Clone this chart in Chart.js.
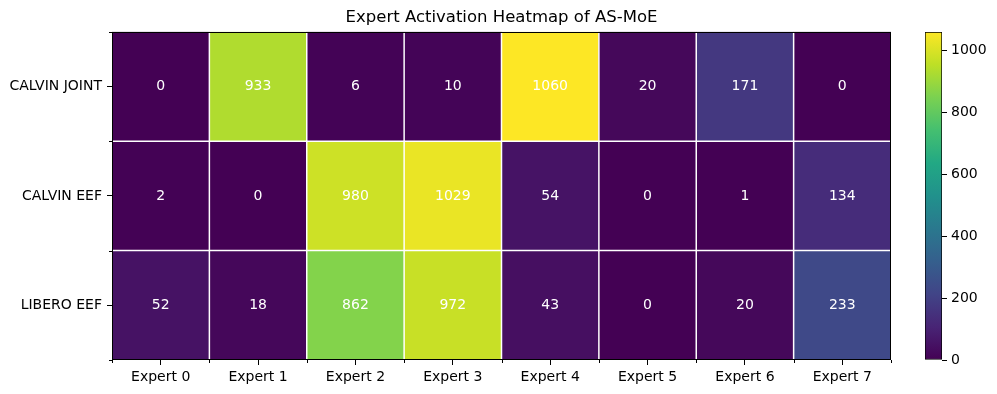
<!DOCTYPE html>
<html>
<head>
<meta charset="utf-8">
<script src="https://cdn.jsdelivr.net/npm/chart.js@4/dist/chart.umd.min.js"></script>
<style>
  body { margin: 0; background: #fff; }
  #wrap { position: relative; width: 997px; height: 394px; }
  canvas { position: absolute; left: 0; top: 0; }
</style>
</head>
<body>
<div id="wrap">
  <canvas id="heat" width="997" height="394"></canvas>
  <canvas id="cbar" width="997" height="394"></canvas>
</div>
<script>
const experts = ["Expert 0", "Expert 1", "Expert 2", "Expert 3",
  "Expert 4", "Expert 5", "Expert 6", "Expert 7"];
const rows = ["CALVIN JOINT", "CALVIN EEF", "LIBERO EEF"];
const calvinJoint = [0, 933, 6, 10, 1060, 20, 171, 0];
const calvinEef = [2, 0, 980, 1029, 54, 0, 1, 134];
const liberoEef = [52, 18, 862, 972, 43, 0, 20, 233];
const cbarTicks = [0, 200, 400, 600, 800, 1000];
const vmin = 0;
const vmax = 1060;

// viridis stops at 0, 0.1, ... 1
const viridisStops = ["#440154", "#482475", "#414487", "#355f8d", "#2a788e",
  "#21918c", "#22a884", "#44bf70", "#7ad151", "#bddf26", "#fde725"];

function hexRgb(h) {
  return [1, 3, 5].map(i => parseInt(h.slice(i, i + 2), 16));
}

function viridis(t) {
  t = Math.max(0, Math.min(1, t));
  const n = viridisStops.length - 1;
  const i = Math.min(n - 1, Math.floor(t * n));
  const f = t * n - i;
  const a = hexRgb(viridisStops[i]), b = hexRgb(viridisStops[i + 1]);
  const c = a.map((v, k) => Math.round(v + (b[k] - v) * f));
  return `rgb(${c[0]},${c[1]},${c[2]})`;
}

Chart.defaults.font.family = "'DejaVu Sans', sans-serif";
Chart.defaults.color = "#000";

const matrix = [calvinJoint, calvinEef, liberoEef];

const cellPlugin = {
  id: "cells",
  afterDatasetsDraw(chart) {
    const ctx = chart.ctx;
    const x = chart.scales.x, y = chart.scales.y;
    const area = chart.chartArea;
    ctx.save();
    // white separators between cells
    ctx.strokeStyle = "#fff";
    ctx.lineWidth = 1.5;
    for (let i = 1; i < experts.length; i++) {
      const px = x.getPixelForValue(i - 0.5);
      ctx.beginPath(); ctx.moveTo(px, area.top); ctx.lineTo(px, area.bottom); ctx.stroke();
    }
    for (let j = 1; j < rows.length; j++) {
      const py = y.getPixelForValue(j);
      ctx.beginPath(); ctx.moveTo(area.left, py); ctx.lineTo(area.right, py); ctx.stroke();
    }
    // minor ticks at cell edges
    ctx.strokeStyle = "#000";
    ctx.lineWidth = 1;
    for (let i = 0; i <= experts.length; i++) {
      const px = Math.round(x.getPixelForValue(i - 0.5)) + 0.5;
      ctx.beginPath(); ctx.moveTo(px, area.bottom); ctx.lineTo(px, area.bottom + 3); ctx.stroke();
    }
    for (let j = 0; j <= rows.length; j++) {
      const py = Math.round(y.getPixelForValue(j)) + 0.5;
      ctx.beginPath(); ctx.moveTo(area.left, py); ctx.lineTo(area.left - 3, py); ctx.stroke();
    }
    // values
    ctx.fillStyle = "#fff";
    ctx.font = "14px 'DejaVu Sans'";
    ctx.textAlign = "center";
    ctx.textBaseline = "middle";
    chart.data.datasets.forEach((ds, r) => {
      chart.getDatasetMeta(r).data.forEach((el, i) => {
        const p = el.getCenterPoint();
        ctx.fillText(String(matrix[r][i]), p.x, p.y);
      });
    });
    // frame
    ctx.strokeStyle = "#000";
    ctx.lineWidth = 1;
    ctx.strokeRect(Math.round(area.left) + 0.5, Math.round(area.top) + 0.5,
      Math.round(area.right - area.left) - 1, Math.round(area.bottom - area.top) - 1);
    ctx.restore();
  }
};

new Chart(document.getElementById("heat"), {
  type: "bar",
  data: {
    labels: experts,
    datasets: matrix.map((vals, r) => ({
      label: rows[r],
      data: vals.map(() => [rows.length - 1 - r, rows.length - r]),
      backgroundColor: vals.map(v => viridis((v - vmin) / (vmax - vmin))),
      borderWidth: 0,
      grouped: false,
      barPercentage: 1,
      categoryPercentage: 1
    }))
  },
  options: {
    responsive: false,
    animation: false,
    layout: { padding: { left: 0, right: 106, bottom: 0, top: 0 } },
    plugins: {
      legend: { display: false },
      tooltip: { enabled: false },
      title: {
        display: true,
        text: "Expert Activation Heatmap of AS-MoE",
        fullSize: false,
        color: "#000",
        font: { size: 16.5, weight: "normal" },
        padding: { top: 8, bottom: 4 }
      }
    },
    scales: {
      x: {
        type: "category",
        offset: true,
        grid: { offset: false, drawOnChartArea: false, drawTicks: true, tickLength: 5, tickColor: "#000" },
        border: { display: false },
        ticks: { font: { size: 14 }, color: "#000", padding: 4, maxRotation: 0 },
        afterFit(scale) { scale.height = 34; }
      },
      y: {
        type: "linear",
        min: 0,
        max: rows.length,
        afterBuildTicks(scale) {
          scale.ticks = rows.map((_, r) => ({ value: rows.length - 1 - r + 0.5 }));
        },
        grid: { drawOnChartArea: false, drawTicks: true, tickLength: 5, tickColor: "#000" },
        border: { display: false },
        ticks: {
          font: { size: 14 }, color: "#000", padding: 5,
          callback: (value) => rows[rows.length - 1 - Math.floor(value)]
        },
        afterFit(scale) { scale.width = 112; }
      }
    }
  },
  plugins: [cellPlugin]
});

new Chart(document.getElementById("cbar"), {
  type: "bar",
  data: {
    labels: [""],
    datasets: [{
      data: [[vmin, vmax]],
      backgroundColor(ctx) {
        const a = ctx.chart.chartArea;
        if (!a) return viridisStops[0];
        const g = ctx.chart.ctx.createLinearGradient(0, a.bottom, 0, a.top);
        viridisStops.forEach((c, i) => g.addColorStop(i / (viridisStops.length - 1), c));
        return g;
      },
      borderColor: "#000",
      borderWidth: 1,
      borderSkipped: false,
      barPercentage: 1,
      categoryPercentage: 1
    }]
  },
  options: {
    responsive: false,
    animation: false,
    layout: { padding: { left: 925, right: 0, top: 32, bottom: 34 } },
    plugins: { legend: { display: false }, tooltip: { enabled: false } },
    scales: {
      x: { display: false },
      y: {
        position: "right",
        min: vmin,
        max: vmax,
        afterBuildTicks(scale) {
          scale.ticks = cbarTicks.map(v => ({ value: v }));
        },
        grid: { drawOnChartArea: false, drawTicks: true, tickLength: 5, tickColor: "#000" },
        border: { display: false },
        ticks: { font: { size: 14 }, color: "#000", padding: 4, callback: v => String(v) },
        afterFit(scale) { scale.width = 55; }
      }
    }
  }
});
</script>
</body>
</html>
